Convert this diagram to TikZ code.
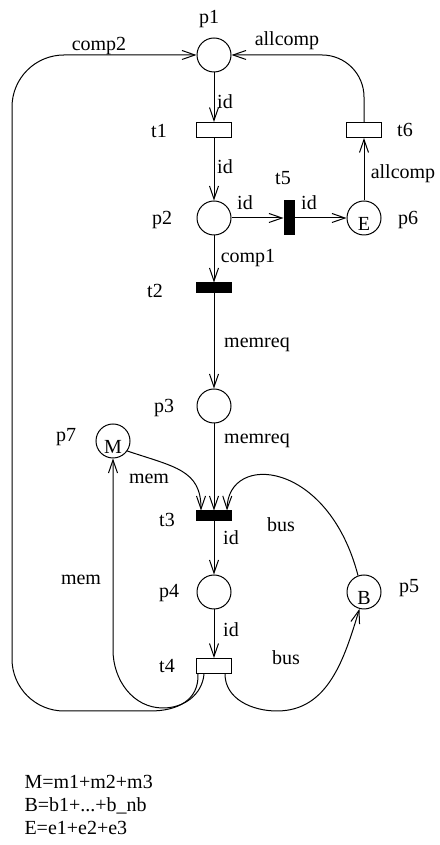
\documentclass[tikz,border=0pt]{standalone}
\usepackage{fontspec}
\setmainfont{Liberation Serif}
\usetikzlibrary{arrows.meta}

\begin{document}
\begin{tikzpicture}[x=1pt, y=1pt, line width=1pt,
  every node/.style={font=\fontsize{20}{24}\selectfont},
  pl/.style={circle, draw, minimum size=34pt, inner sep=0pt, text height=25pt, text depth=0pt},
  tr/.style={draw, minimum width=35pt, minimum height=15pt, inner sep=0pt},
  bar/.style={draw, fill=black, minimum width=35pt, minimum height=10pt, inner sep=0pt},
  vbar/.style={draw, fill=black, minimum width=10pt, minimum height=34pt, inner sep=0pt},
  lbl/.style={inner sep=0pt},
  arr/.style={-{Straight Barb[length=13pt, width=9pt]}},
]
  \useasboundingbox (0,0) rectangle (439,845);

  % places
  \node[pl] (p1) at (214,790) {};
  \node[pl] (p2) at (214,627) {};
  \node[pl] (p3) at (214,439) {};
  \node[pl] (p4) at (214,253) {};
  \node[pl] (p5) at (364,253) {B};
  \node[pl] (p6) at (364,627) {E};
  \node[pl] (p7) at (113,404) {M};

  % transitions
  \node[tr]   (t1) at (214,715) {};
  \node[bar]  (t2) at (214,557) {};
  \node[bar]  (t3) at (214,329) {};
  \node[tr]   (t4) at (214,179) {};
  \node[vbar] (t5) at (289,627) {};
  \node[tr]   (t6) at (364,715) {};

  % names
  \node[lbl] (lp1) at (209,826) {p1};
  \node[lbl] (lp2) at (162,625) {p2};
  \node[lbl] (lp3) at (164,437) {p3};
  \node[lbl] (lp4) at (169,252) {p4};
  \node[lbl] (lp5) at (409,257) {p5};
  \node[lbl] (lp6) at (408,625) {p6};
  \node[lbl] (lp7) at (66,408)  {p7};
  \node[lbl] (lt1) at (159,714) {t1};
  \node[lbl] (lt2) at (155,554) {t2};
  \node[lbl] (lt3) at (167,325) {t3};
  \node[lbl] (lt4) at (167,179) {t4};
  \node[lbl] (lt5) at (283,667) {t5};
  \node[lbl] (lt6) at (405,715) {t6};

  % arc inscriptions
  \node[lbl] (comp2)  at (99,799)  {comp2};
  \node[lbl] (allc1)  at (287,804) {allcomp};
  \node[lbl] (allc2)  at (403,671) {allcomp};
  \node[lbl] (id1)    at (225,743) {id};
  \node[lbl] (id2)    at (225,678) {id};
  \node[lbl] (id3)    at (245,642) {id};
  \node[lbl] (id4)    at (309,642) {id};
  \node[lbl] (comp1)  at (248,587) {comp1};
  \node[lbl] (memrq1) at (257,500) {memreq};
  \node[lbl] (memrq2) at (257,404) {memreq};
  \node[lbl] (mem1)   at (149,366) {mem};
  \node[lbl] (mem2)   at (81,265)  {mem};
  \node[lbl] (bus1)   at (281,320) {bus};
  \node[lbl] (bus2)   at (286,187) {bus};
  \node[lbl] (id5)    at (231,307) {id};
  \node[lbl] (id6)    at (231,215) {id};

  % arcs
  \draw[arr] (p1) -- (t1);
  \draw[arr] (t1) -- (p2);
  \draw[arr] (p2) -- (t5);
  \draw[arr] (t5) -- (p6);
  \draw[arr] (p6) -- (t6);
  \draw[arr, rounded corners=42pt] (t6) |- (p1);
  \draw[arr] (p2) -- (t2);
  \draw[arr] (t2) -- (p3);
  \draw[arr] (p3) -- (t3);
  \draw[arr] (p7.-35) .. controls (175,378) and (201,375) .. ([xshift=-13pt]t3.north);
  \draw[arr] (p5.110) .. controls (328,385) and (228,393) .. ([xshift=13pt]t3.north);
  \draw[arr] (t3) -- (p4);
  \draw[arr] (p4) -- (t4);
  \draw[arr] ([xshift=-7pt]t4.south east) to[out=-90, in=180] (277,134)
    to[out=0, in=-107] (p5.-105);
  \draw[arr] ([xshift=8pt]t4.south west) to[out=-95, in=0] (163,137)
    to[out=180, in=-90] (113,195) -- (p7);
  \draw[arr] ([xshift=2pt]t4.south west) .. controls (199,145) and (178,134) .. (150,134)
    [rounded corners=52pt] -- (12,134) -- (12,790) -- (p1);

  % colour sets
  \node[lbl, anchor=base west] (setM) at (24,56) {M=m1+m2+m3};
  \node[lbl, anchor=base west] (setB) at (24,33) {B=b1+...+b\_nb};
  \node[lbl, anchor=base west] (setE) at (24,10) {E=e1+e2+e3};
\end{tikzpicture}
\end{document}
